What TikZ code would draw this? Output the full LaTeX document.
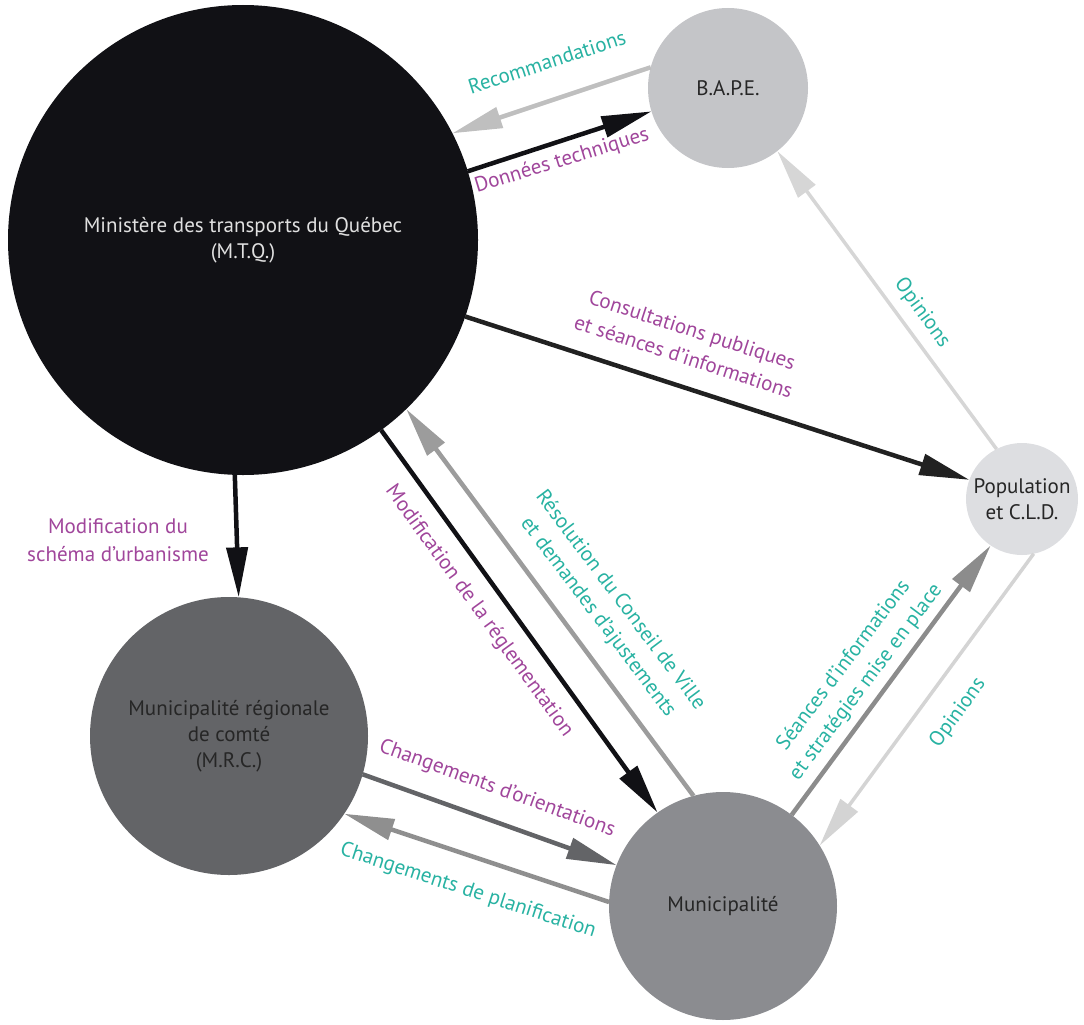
\documentclass[tikz,border=0pt]{standalone}
\usepackage{fontspec}
\setmainfont{PT Sans}
\usetikzlibrary{arrows.meta}

\definecolor{mtqfill}{RGB}{17,17,21}
\definecolor{bapefill}{RGB}{196,197,200}
\definecolor{popfill}{RGB}{221,222,225}
\definecolor{mrcfill}{RGB}{99,100,103}
\definecolor{munifill}{RGB}{139,140,144}
\definecolor{lblpurple}{RGB}{160,70,155}
\definecolor{lblteal}{RGB}{40,178,162}

\begin{document}
\begin{tikzpicture}[x=1pt,y=-1pt,
    etat/.style={circle,inner sep=0pt,outer sep=0pt,align=center,text=black!85,
      font=\fontsize{21}{26}\selectfont},
    lien/.style={-{Triangle[length=50pt,width=21pt]},line width=4.5pt},
    lbl/.style={align=center,font=\fontsize{21}{28}\selectfont}]

    \useasboundingbox (0,0) rectangle (1084,1025);

    % acteurs
    \node [etat,fill=mtqfill,minimum size=470pt,text=white!88!black] (mtq) at (243,240)
      {Ministère des transports du Québec\\(M.T.Q.)};
    \node [etat,fill=bapefill,minimum size=160pt] (bape) at (728,88) {B.A.P.E.};
    \node [etat,fill=popfill,minimum size=112pt] (pop) at (1022,499) {Population\\et C.L.D.};
    \node [etat,fill=mrcfill,minimum size=278pt] (mrc) at (229,736)
      {Municipalité régionale\\de comté\\(M.R.C.)};
    \node [etat,fill=munifill,minimum size=228pt] (muni) at (723,906) {Municipalité};

    % flux
    \draw [lien,draw=black!25] (bape.165.3) -- (mtq.27.3);
    \draw [lien,draw=mtqfill] (mtq.17.8) -- (bape.197.8);
    \draw [lien,draw=black!87] (mtq.-19.4) -- (pop.160);
    \draw [lien,draw=black!16,line width=3.5pt] (pop.117) -- (bape.-52);
    \draw [lien,draw=mtqfill] (mtq.268.8) -- (mrc.86.3);
    \draw [lien,draw=mtqfill] (mtq.-54.6) -- (muni.125.1);
    \draw [lien,draw=black!39] (muni.105.1) -- (mtq.-46.2);
    \draw [lien,draw=mrcfill] (mrc.-16.8) -- (muni.159.8);
    \draw [lien,draw=black!44] (muni.178) -- (mrc.-34.5);
    \draw [lien,draw=black!45] (muni.53.7) -- (pop.236.9);
    \draw [lien,draw=black!17,line width=3.5pt] (pop.-78.5) -- (muni.32.6);

    % etiquettes
    \node [lbl,text=lblteal,rotate=18] (l1) at (547,62) {Recommandations};
    \node [lbl,text=lblpurple,rotate=17] (l2) at (562,161) {Données techniques};
    \node [lbl,text=lblpurple,rotate=-18] (l3) at (688,343)
      {Consultations publiques\\et séances d'informations};
    \node [lbl,text=lblteal,rotate=-54] (l4) at (922,313) {Opinions};
    \node [lbl,text=lblpurple] (l5) at (118,540) {Modification du\\schéma d'urbanisme};
    \node [lbl,text=lblpurple,rotate=-54] (l6) at (479,611) {Modification de la réglementation};
    \node [lbl,text=lblteal,rotate=-53] (l7) at (609,609)
      {Résolution du Conseil de Ville\\et demandes d'ajustements};
    \node [lbl,text=lblpurple,rotate=-20] (l8) at (497,789) {Changements d'orientations};
    \node [lbl,text=lblteal,rotate=-18] (l9) at (468,891) {Changements de planification};
    \node [lbl,text=lblteal,rotate=53] (l10) at (855,674)
      {Séances d'informations\\et stratégies mise en place};
    \node [lbl,text=lblteal,rotate=54] (l11) at (958,713) {Opinions};

\end{tikzpicture}
\end{document}
